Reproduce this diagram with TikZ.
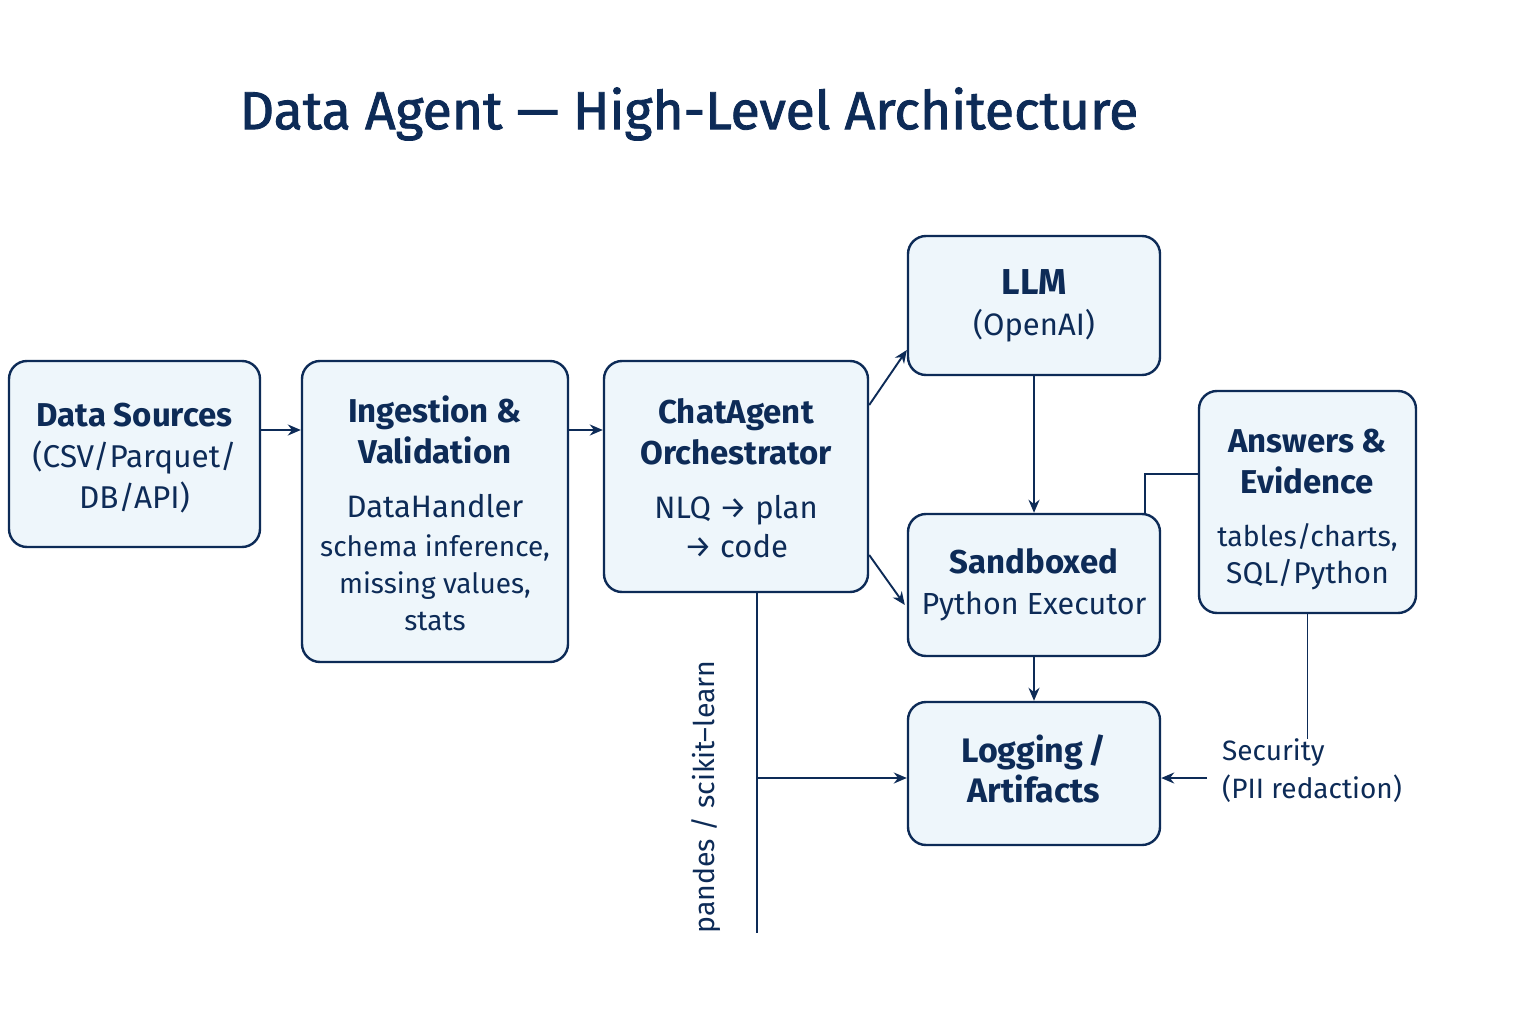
\documentclass[tikz,border=0pt]{standalone}
\usepackage{fontspec}
\setmainfont{Fira Sans}
\newfontfamily\medfont[FakeBold=1.6]{Fira Sans}
\usetikzlibrary{arrows.meta,calc}
\definecolor{navy}{HTML}{0D2B57}
\definecolor{boxfill}{HTML}{EEF6FB}
\newcommand{\hd}[1]{{\fontsize{33}{41}\selectfont\bfseries #1}}
\begin{document}
\begin{tikzpicture}[x=1pt,y=-1pt,
  box/.style={draw=navy, fill=boxfill, line width=2.4pt, rounded corners=18pt,
    align=center, text=navy, inner sep=0pt,
    font=\fontsize{28}{37}\selectfont},
  conn/.style={draw=navy, line width=1.9pt},
  arr/.style={conn, -{Stealth[length=13pt,width=11pt]}},
  lbl/.style={text=navy, font=\fontsize{28}{38}\selectfont, inner sep=0pt}
]
\useasboundingbox[fill=white] (0,0) rectangle (1536,1024);

\node[text=navy, font=\fontsize{53.5}{60}\selectfont\medfont] (title) at (689,114)
  {Data Agent — High-Level Architecture};

\node[box, minimum width=251pt, minimum height=186pt,
      font=\fontsize{31.5}{41}\selectfont] (ds) at (134.5,454)
  {\hd{\rule{0pt}{31pt}Data Sources}\\
   (CSV/Parquet/\\
   DB/API)};

\node[box, minimum width=266pt, minimum height=301pt] (ing) at (435,511.5)
  {\hd{\rule{0pt}{30pt}Ingestion \&}\\[4pt]
   \hd{Validation}\\[17pt]
   {\fontsize{31}{38}\selectfont DataHandler}\\[2pt]
   schema inference,\\
   missing values,\\
   stats};

\node[box, minimum width=264pt, minimum height=231pt] (chat) at (736,476.5)
  {\hd{\rule{0pt}{28pt}ChatAgent}\\[4pt]
   \hd{Orchestrator}\\[17pt]
   {\fontsize{31}{38}\selectfont NLQ → plan}\\[2pt]
   {\fontsize{31}{38}\selectfont → code}};

\node[box, minimum width=252pt, minimum height=139pt,
      font=\fontsize{31}{41}\selectfont] (llm) at (1034,305.5)
  {{\fontsize{36}{41}\selectfont\bfseries LLM}\\
   (OpenAI)};

\node[box, minimum width=252pt, minimum height=142pt,
      font=\fontsize{30.5}{41}\selectfont] (sb) at (1034,585)
  {\hd{Sandboxed}\\
   Python Executor};

\node[box, minimum width=252pt, minimum height=143pt,
      font=\fontsize{34}{40}\selectfont] (log) at (1034,773.5)
  {{\bfseries Logging\,/}\\
   {\bfseries Artifacts\rule[-10pt]{0pt}{10pt}}};

\node[box, minimum width=217pt, minimum height=222pt] (ans) at (1307.5,502)
  {\hd{\rule{0pt}{38pt}Answers \&}\\[4pt]
   \hd{Evidence}\\[16pt]
   {\fontsize{28.5}{37}\selectfont tables/charts,}\\
   {\fontsize{30}{37}\selectfont SQL/Python}};

\node[lbl, anchor=west, align=left] (sec) at (1222,771)
  {Security\\(PII redaction)};

\node[lbl, rotate=90, font=\fontsize{28.5}{38}\selectfont] (lib) at (706,797)
  {pandes / scikit–learn};

\coordinate (vbot) at (757,933);

% connectors
\draw[arr] ([yshift=24pt]ds.east) -- ([yshift=24pt]ds.east -| ing.west);
\draw[arr] ([yshift=81.5pt]ing.east) -- ([yshift=81.5pt]ing.east -| chat.west);
\draw[arr] ([yshift=71.5pt]chat.east) -- ([yshift=-44.5pt]llm.west);
\draw[arr] ([yshift=-78.5pt]chat.east) -- ([yshift=-20pt,xshift=-2pt]sb.west);
\draw[arr] (llm.south) -- (sb.north);
\draw[arr] (sb.south) -- (log.north);
\draw[conn] ([yshift=28pt]ans.west) -| ([xshift=111pt]sb.north);
\draw[conn] (ans.south) -- (ans.south |- sec.north);
\draw[arr] ([xshift=-15pt,yshift=-7pt]sec.west) -- ([yshift=-4.5pt]log.east);
\draw[conn] ([xshift=21pt]chat.south) -- (vbot);
\draw[arr] ([yshift=-4.5pt]log.west -| vbot) -- ([yshift=-4.5pt]log.west);
\end{tikzpicture}
\end{document}
